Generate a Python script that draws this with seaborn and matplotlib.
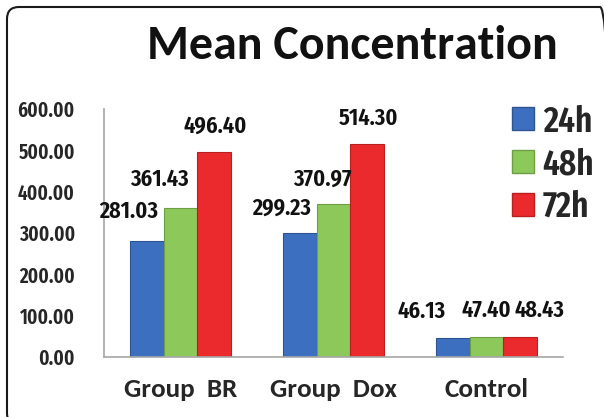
import matplotlib
matplotlib.use("Agg")
import matplotlib.pyplot as plt
import pandas as pd
import seaborn as sns
from matplotlib.patches import FancyBboxPatch, Patch


GROUPS = ["Group  BR", "Group  Dox", "Control"]
TIMES = ["24h", "48h", "72h"]
VALUES_24H = [281.03, 299.23, 46.13]
VALUES_48H = [361.43, 370.97, 47.40]
VALUES_72H = [496.40, 514.30, 48.43]
Y_TICKS = [0, 100, 200, 300, 400, 500, 600]

PALETTE = {"24h": "#3D6FC0", "48h": "#8DC85A", "72h": "#EA2A2C"}
EDGES = {"24h": "#2E5592", "48h": "#6E9E45", "72h": "#B82022"}
NUM_FONT = "Fira Sans Extra Condensed"
TEXT_FONT = "Carlito"

# pixel offsets of each value label from the top centre of its bar (row = hue)
LABEL_OFFSETS = [
    [(-18, 30), (-18, 25), (-31, 27)],
    [(-21, 28), (-11, 25), (0, 27)],
    [(1, 26), (1, 26), (19, 27)],
]


def build_frame() -> pd.DataFrame:
    rows = []
    for time, values in zip(TIMES, [VALUES_24H, VALUES_48H, VALUES_72H]):
        for group, value in zip(GROUPS, values):
            rows.append({"group": group, "time": time, "value": value})
    return pd.DataFrame(rows)


def draw(df: pd.DataFrame):
    sns.set_theme(style="white")
    plt.rcParams["font.family"] = [TEXT_FONT, "DejaVu Sans"]
    fig = plt.figure(figsize=(6.04, 4.17), dpi=100)
    ax = fig.add_axes([104 / 604, 1 - 357 / 417, (563 - 104) / 604, (357 - 109) / 417])

    sns.barplot(
        data=df,
        x="group",
        y="value",
        hue="time",
        order=GROUPS,
        hue_order=TIMES,
        palette=PALETTE,
        width=0.66,
        saturation=1,
        ax=ax,
        legend=False,
    )
    for container, time, offsets in zip(ax.containers, TIMES, LABEL_OFFSETS):
        for bar, (dx, dy) in zip(container, offsets):
            bar.set_edgecolor(EDGES[time])
            bar.set_linewidth(0.8)
            h = bar.get_height()
            ax.annotate(
                f"{h:.2f}",
                xy=(bar.get_x() + bar.get_width() / 2, h),
                xytext=(dx, dy),
                textcoords="offset pixels",
                ha="center",
                va="center",
                fontsize=17.5,
                fontweight=600,
                family=NUM_FONT,
                color="#111111",
            )

    ax.set_xlim(-0.5, 2.5)
    ax.set_ylim(0, 600)
    ax.set_yticks(Y_TICKS)
    ax.set_yticklabels([f"{v:.2f}" for v in Y_TICKS], family=NUM_FONT, fontweight=600, fontsize=15)
    ax.set_xticks(range(len(GROUPS)))
    ax.set_xticklabels(GROUPS, family=TEXT_FONT, fontweight="bold", fontsize=19.5)
    ax.set_xlabel("")
    ax.set_ylabel("")
    ax.tick_params(axis="y", length=5, width=1, color="#A6A6A6", direction="out", pad=16)
    ax.tick_params(axis="x", length=0, pad=15)
    for side in ["top", "right"]:
        ax.spines[side].set_visible(False)
    for side in ["left", "bottom"]:
        ax.spines[side].set_color("#A6A6A6")
        ax.spines[side].set_linewidth(1.2)

    handles = [Patch(facecolor=PALETTE[t], edgecolor=EDGES[t], label=t) for t in TIMES]
    fig.legend(
        handles=handles,
        loc="upper left",
        bbox_to_anchor=(512 / 604, 1 - 104 / 417),
        frameon=False,
        borderpad=0,
        borderaxespad=0,
        handlelength=0.6,
        handleheight=0.6,
        handletextpad=0.25,
        labelspacing=0.2,
        prop={"family": NUM_FONT, "weight": 600, "size": 26},
    )

    fig.text(352 / 604, 1 - 46 / 417, "Mean Concentration", ha="center", va="center",
             family=TEXT_FONT, fontweight="bold", fontsize=34.5, color="#111111")

    border = FancyBboxPatch(
        (7, -8), 605, 418,
        boxstyle="round,pad=0,rounding_size=12",
        transform=None, fill=False, edgecolor="#1A1A1A", linewidth=1.5,
    )
    fig.add_artist(border)

    fig.savefig("out.png", dpi=100)
    plt.close(fig)


if __name__ == "__main__":
    draw(build_frame())
